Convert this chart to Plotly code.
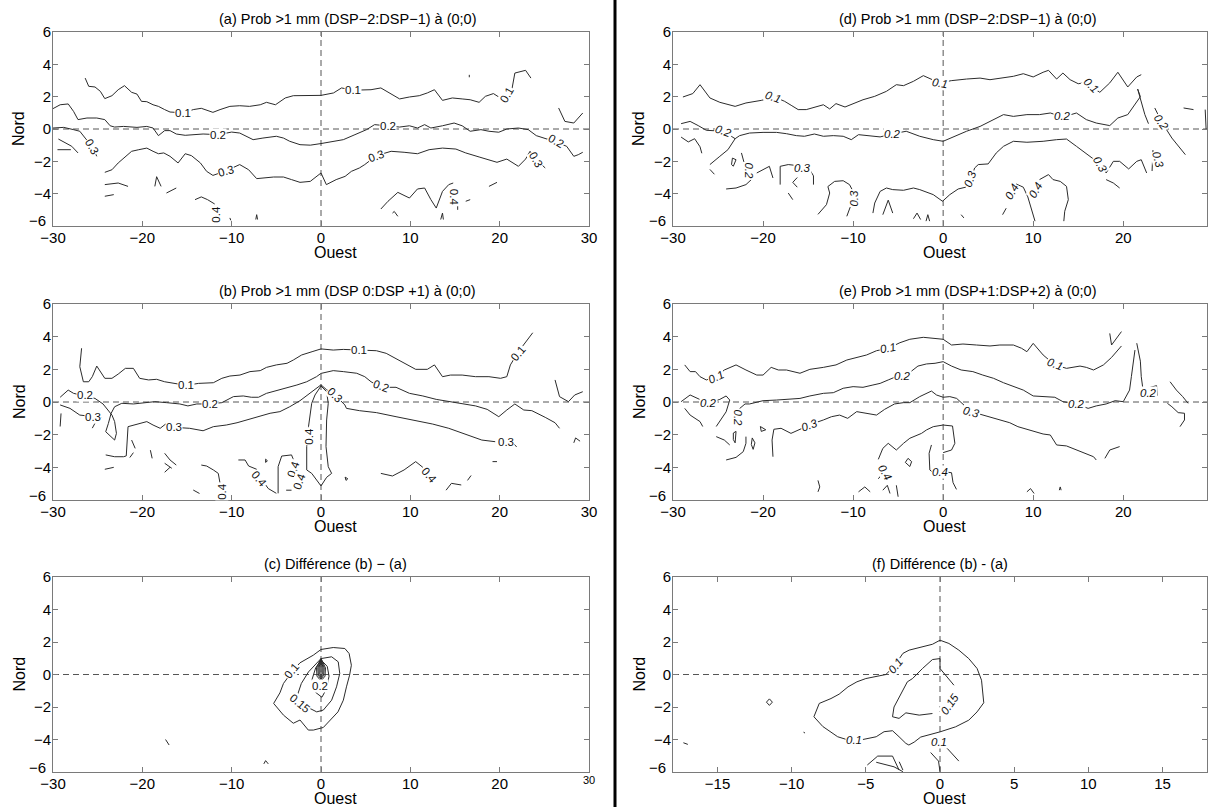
import plotly.graph_objects as go

# ---------------- DATA ----------------
# Each contour polyline is a list of (Ouest, Nord) points.

# Panel (a)
A_01 = [(-26.4,3.15),(-26.0,2.64),(-25.3,2.6),(-24.7,2.33),(-24.2,1.88),(-23.4,2.06),(-22.7,2.43),(-22.0,2.68),(-21.2,2.27),(-20.6,2.16),(-20.1,1.71),(-19.5,1.69),(-18.8,1.5),(-18.2,1.4),(-17.5,1.2),(-16.9,1.05),(-15.4,1.0),(-14.3,1.2),(-13.4,1.28),(-12.1,1.03),(-11.3,1.2),(-10.2,1.4),(-9.1,1.44),(-8.0,1.4),(-6.8,1.5),(-6.1,1.65),(-5.1,1.5),(-4.0,1.92),(-3.1,2.06),(-1.6,2.06),(0,2.08),(1.4,2.23),(2.3,2.54),(3.6,2.4),(5.6,2.43),(6.7,2.54),(7.6,2.23),(8.8,1.86),(9.9,1.98),(11.0,2.06),(11.9,2.23),(12.7,2.43),(13.6,1.77),(14.7,1.92),(15.8,1.86),(16.7,1.81),(17.7,1.65),(18.4,2.02),(19.3,2.19),(19.9,1.98),(20.8,2.0),(21.4,2.54),(21.7,3.46),(22.9,3.63),(23.5,3.15)]
A_02 = [(26.6,1.3),(27.3,0.47),(28.3,0.37),(28.8,0.68),(29.3,0.99)]
A_03 = [(-30,1.26),(-29.2,1.5),(-28.3,1.55),(-27.7,1.09),(-27.2,0.58),(-26.2,0.68),(-25.1,0.68),(-24.2,0.58),(-23.6,0.2),(-23.1,0.12),(-22.1,0.16),(-20.6,0.1),(-19.5,0.16),(-18.8,0.06),(-18.2,-0.41),(-17.5,-0.1),(-16.9,-0.1),(-16.2,-0.31),(-15.2,-0.39),(-14.3,-0.35),(-13.2,-0.31),(-11.5,-0.35),(-10.0,-0.19),(-9.1,-0.25),(-7.6,-0.66),(-6.5,-0.56),(-5.0,-0.45),(-4.2,-0.56),(-3.5,-0.76),(-2.35,-0.97),(-1.2,-1.0),(0,-0.9),(1.4,-0.76),(2.5,-0.66),(3.8,-0.35),(5.1,-0.04),(6.0,0.27),(7.5,0.2),(8.8,0.12),(9.9,0.2),(10.8,0.06),(11.6,0.27),(12.3,0.06),(13.6,0.2),(14.9,0.37),(15.8,0.2),(16.7,-0.14),(17.9,-0.04),(18.8,-0.14),(19.9,-0.2),(20.8,0),(22.1,0.06),(23.2,-0.04),(24.1,-0.41),(25.2,-0.6),(26.3,-0.8),(27.5,-1.07),(28.3,-1.69),(28.8,-1.59),(29.3,-1.44)]
A_04 = [(-30,0.06),(-28.8,0.1),(-27.7,-0.04),(-27.0,-0.14),(-26.4,-0.56),(-25.6,-1.1),(-25.1,-1.69)]
A_05 = [(-29.4,-0.62),(-27.9,-1.07),(-27.2,-1.48)]
A_06 = [(-29.5,-1.28),(-28.0,-1.28)]
A_07 = [(-24.2,-2.68),(-23.4,-2.52),(-22.7,-2.1),(-21.9,-1.69),(-21.2,-1.38),(-20.4,-1.28),(-19.5,-1.18),(-18.8,-1.38),(-18.2,-1.53),(-17.6,-1.48),(-16.9,-1.69),(-16.0,-2.1),(-15.2,-1.53),(-14.5,-1.65),(-13.5,-2.1),(-12.8,-2.62),(-12.1,-2.87),(-10.6,-2.58),(-9.1,-2.2),(-8.1,-2.52),(-7.2,-3.07),(-5.3,-2.97),(-4.2,-2.97),(-3.3,-3.13),(-2.35,-3.3),(-1.2,-3.24),(0,-2.72),(0.6,-3.44),(1.7,-3.13),(2.7,-2.93),(3.4,-2.62),(4.3,-2.41),(4.9,-2.2),(6.2,-1.65),(7.85,-1.38),(9.3,-1.44),(10.8,-1.53),(12.1,-1.28),(13.6,-1.18),(15.1,-1.24),(16.2,-1.48),(17.7,-1.73),(19.7,-2.06),(20.8,-1.86),(22.1,-2.31),(22.9,-1.86),(23.4,-1.38),(24.1,-1.9),(25.1,-2.41)]
A_08 = [(6.7,-4.95),(7.5,-4.47),(8.6,-3.92),(9.9,-4.27),(10.8,-3.71),(11.6,-3.65),(12.3,-4.37),(12.9,-4.89),(13.6,-3.86),(14.3,-3.44),(14.8,-3.34)]
A_09 = [(15.3,-4.6),(15.3,-5.0)]
A_10 = [(16.2,-4.47),(16.7,-4.37)]
A_11 = [(18.8,-3.55),(19.7,-3.3)]
A_12 = [(8.0,-5.2),(8.2,-5.1),(8.6,-5.4)]
A_13 = [(13.4,-5.6),(13.6,-5.2),(13.7,-5.6)]
A_14 = [(-14.1,-4.37),(-13.4,-4.2),(-12.7,-4.37),(-11.9,-4.64)]
A_15 = [(-10.2,-5.5),(-10.1,-5.65)]
A_16 = [(-7.3,-5.6),(-7.2,-5.3),(-7.1,-5.6)]
A_17 = [(-18.6,-3.55),(-18.4,-2.95),(-17.9,-3.55)]
A_18 = [(-17.3,-3.96),(-16.2,-3.65)]
A_19 = [(-24.2,-3.44),(-22.7,-3.34),(-21.6,-3.55)]
A_20 = [(-24.2,-4.16),(-23.2,-4.06)]
A_21 = [(16.6,3.2),(16.6,3.35)]
A_LINES = [A_01,A_02,A_03,A_04,A_05,A_06,A_07,A_08,A_09,A_10,A_11,A_12,A_13,A_14,A_15,A_16,A_17,A_18,A_19,A_20,A_21]
A_LABELS = [("0.1",-15.4,1.0,0),("0.1",3.6,2.4,0),("0.1",20.8,2.1,-60),
            ("0.2",-11.5,-0.35,0),("0.2",7.5,0.2,0),("0.2",26.3,-0.75,30),
            ("0.3",-25.6,-1.1,60),("0.3",-10.6,-2.6,-15),("0.3",6.2,-1.65,-20),("0.3",24.1,-1.9,60),
            ("0.4",-11.75,-5.3,-90),("0.4",14.9,-4.2,90)]

# Panel (b)
B_01 = [(-26.8,3.29),(-27.0,2.16),(-26.6,1.24),(-26.0,1.24),(-25.6,1.55),(-25.1,2.2),(-24.2,1.45),(-23.4,1.45),(-22.7,1.71),(-21.9,2.06),(-21.0,2.06),(-20.3,1.45),(-19.3,1.35),(-18.4,1.39),(-17.5,1.24),(-16.5,1.14),(-15.1,1.02),(-13.7,1.14),(-12.05,1.18),(-11.1,1.45),(-10.2,1.59),(-9.07,1.65),(-7.95,1.86),(-6.8,1.92),(-6.1,2.12),(-5.0,2.27),(-3.8,2.37),(-3.1,2.57),(-2.16,2.88),(-1.0,3.08),(0,3.25),(1.37,3.18),(2.5,3.22),(4.3,3.18),(6.2,3.14),(7.3,2.98),(8.4,2.67),(9.5,2.33),(10.6,2.0),(11.9,2.0),(12.7,2.27),(13.6,1.55),(14.5,1.65),(15.8,1.65),(17.3,1.55),(18.8,1.55),(20.1,1.45),(20.8,1.55),(21.2,2.27),(22.1,3.08),(23.2,3.9),(23.7,4.24)]
B_02 = [(-29.2,0.29),(-28.3,0.73),(-27.7,0.53),(-26.4,0.37),(-25.3,0.22),(-24.4,-0.12),(-23.4,-0.8),(-23.1,-1.2),(-22.9,-1.92),(-23.1,-2.33),(-24.1,-1.82),(-23.8,-1.31),(-23.5,-0.7),(-23.1,-0.29),(-22.3,-0.08),(-21.0,-0.12),(-19.9,-0.04),(-18.6,0.02),(-17.3,-0.04),(-15.8,-0.12),(-14.9,-0.24),(-13.9,-0.12),(-12.4,-0.12),(-11.1,-0.04),(-9.8,0.33),(-8.7,0.37),(-7.8,0.29),(-7.0,0.29),(-6.1,0.53),(-5.0,0.69),(-3.8,0.84),(-2.7,1.04),(-1.6,1.24),(-0.5,1.55),(0,1.75),(1.37,1.92),(2.5,1.86),(4.0,1.76),(4.9,1.55),(5.6,1.24),(6.7,0.9),(8.4,0.9),(9.9,0.53),(11.4,0.37),(12.9,0.16),(14.3,0.02),(15.8,-0.12),(17.3,-0.24),(18.6,-0.45),(19.9,-0.9),(20.8,-0.49),(21.7,-0.12),(22.7,-0.49),(23.6,-0.53),(25.1,-0.94),(26.2,-1.27),(26.7,-1.61)]
B_03 = [(26.2,1.35),(26.7,0.33),(27.7,0.02),(28.4,0.43),(29.3,0.63)]
B_04 = [(-29.2,-0.18),(-28.1,-0.39),(-27.0,-0.8),(-25.5,-0.9),(-24.6,-0.95)]
B_05 = [(-25.3,-1.3),(-25.6,-1.6)]
B_06 = [(-24.1,-3.24),(-23.1,-3.35),(-22.1,-3.35),(-21.8,-3.3),(-21.6,-1.51),(-20.6,-1.35),(-19.5,-1.2),(-18.8,-1.41),(-18.0,-1.61),(-17.3,-1.31),(-16.5,-1.55),(-14.7,-1.61),(-13.2,-1.76),(-12.05,-1.51),(-10.6,-1.41),(-9.4,-1.27),(-8.3,-1.1),(-6.8,-0.9),(-5.7,-0.69),(-4.6,-0.59),(-3.5,-0.29),(-2.35,0.08),(-1.23,0.53),(-0.3,0.94),(0,1.05),(0.63,0.75),(1.56,0.43),(2.67,-0.18),(2.85,-0.39),(4.3,-0.53),(6.2,-0.65),(8.4,-0.9),(10.3,-1.1),(12.5,-1.35),(14.3,-1.61),(16.2,-1.96),(18.0,-2.33),(19.5,-2.43)]
B_07 = [(21.4,-2.45),(21.9,-2.75)]
B_08 = [(0,0.98),(0.63,0.63),(0.81,-0.08),(0.63,-1.1),(0.56,-2.73),(0.81,-3.96),(1.19,-4.37),(0.63,-4.61),(0,-5.14),(-0.48,-4.78),(-1.04,-4.37),(-1.6,-4.16),(-1.6,-2.73),(-1.4,-1.51),(-1.04,-0.08),(-0.67,0.43),(0,0.98)]
B_09 = [(-13.4,-3.86),(-12.8,-3.92),(-12.05,-4.16),(-11.5,-4.37),(-11.3,-4.98)]
B_10 = [(-14.3,-5.39),(-13.6,-5.6)]
B_11 = [(-9.25,-3.55),(-8.5,-3.55),(-8.1,-3.92),(-7.2,-4.12),(-6.9,-4.4)]
B_12 = [(-6.3,-5.0),(-5.9,-5.3),(-5.0,-5.59)]
B_13 = [(-6.2,-3.5),(-6.0,-3.6),(-6.2,-3.7),(-6.2,-3.5)]
B_14 = [(-4.8,-5.59),(-4.8,-3.96),(-4.4,-3.31),(-3.3,-3.24),(-3.0,-3.65)]
B_15 = [(-3.9,-5.4),(-3.3,-5.4)]
B_16 = [(-29.1,-0.7),(-29.2,-1.5)]
B_17 = [(-24.2,-4.12),(-23.2,-4.0)]
B_18 = [(-21.2,-2.33),(-20.8,-2.84)]
B_19 = [(-21.4,-3.4),(-21.0,-3.1)]
B_20 = [(-19.1,-2.95),(-18.9,-3.45)]
B_21 = [(-17.5,-3.14),(-16.9,-3.55),(-16.2,-3.86)]
B_22 = [(-17.5,-3.75),(-16.7,-4.06)]
B_23 = [(-17.5,-4.3),(-16.9,-4.0)]
B_24 = [(6.7,-4.37),(8.0,-4.53),(9.3,-4.16),(10.6,-3.65),(11.4,-4.0)]
B_25 = [(14.0,-5.4),(14.6,-4.98),(15.7,-5.08)]
B_26 = [(16.4,-4.8),(16.8,-4.5)]
B_27 = [(19.2,-3.65),(19.7,-3.65)]
B_28 = [(28.3,-2.5),(28.5,-2.2),(29.0,-2.4)]
B_29 = [(2.7,-4.6),(3.0,-4.7),(2.8,-4.8),(2.7,-4.6)]
B_LINES = [B_01,B_02,B_03,B_04,B_05,B_06,B_07,B_08,B_09,B_10,B_11,B_12,B_13,B_14,B_15,B_16,B_17,B_18,B_19,B_20,B_21,B_22,B_23,B_24,B_25,B_26,B_27,B_28,B_29]
B_LABELS = [("0.1",-15.1,1.02,0),("0.1",4.3,3.18,0),("0.1",22.1,3.0,-50),
            ("0.2",-26.4,0.45,0),("0.2",-12.4,-0.12,0),("0.2",6.7,0.95,20),
            ("0.3",-25.5,-0.9,0),("0.3",-16.5,-1.55,0),("0.3",1.56,0.43,45),("0.3",20.7,-2.43,0),
            ("0.4",-1.3,-2.1,-90),("0.4",-11.1,-5.45,-90),("0.4",-6.9,-4.7,50),
            ("0.4",-3.1,-4.1,-70),("0.4",-2.4,-4.85,-70),("0.4",12.2,-4.5,50)]

# Panel (c)
C_01 = [(0,1.54),(1.37,1.66),(2.67,1.6),(3.15,1.29),(3.4,0.57),(3.2,-0.04),(2.85,-0.76),(2.5,-1.58),(1.9,-2.3),(1.37,-2.6),(0.26,-3.26),(-0.85,-3.42),(-1.42,-3.42),(-2.35,-2.8),(-3.1,-3.0),(-4.2,-2.5),(-5.3,-1.78),(-4.6,-1.13),(-4.2,-0.55),(-3.1,0.27),(-2.35,0.72),(-0.86,1.19),(0,1.54)]
C_02 = [(0,0.98),(1.19,1.09),(1.93,0.78),(2.1,0.06),(1.74,-0.76),(1.19,-1.58),(0.26,-2.19),(-0.48,-2.3),(-1.23,-2.09),(-2.16,-1.78),(-2.7,-1.37),(-2.2,-0.55),(-1.4,0.16),(-0.5,0.68),(0,0.98)]
C_03 = [(0,0.9),(0.7,0.5),(0.9,-0.1),(0.6,-0.9),(0.1,-1.4),(-0.6,-1.1),(-1.0,-0.3),(-0.6,0.4),(0,0.9)]
C_04 = [(0,1.0),(0.5,0.4),(0.45,-0.1),(0,-0.4),(-0.45,-0.1),(-0.5,0.4),(0,1.0)]
C_05 = [(0,0.95),(0.36,0.4),(0.3,-0.05),(0,-0.3),(-0.3,-0.05),(-0.36,0.4),(0,0.95)]
C_06 = [(0,0.9),(0.24,0.4),(0.2,0.0),(0,-0.2),(-0.2,0.0),(-0.24,0.4),(0,0.9)]
C_07 = [(0,0.85),(0.12,0.4),(0.1,0.05),(0,-0.1),(-0.1,0.05),(-0.12,0.4),(0,0.85)]
C_08 = [(-17.4,-4.0),(-17.0,-4.34)]
C_09 = [(-6.4,-5.5),(-6.2,-5.3),(-5.9,-5.5)]
C_LINES = [C_01,C_02,C_03,C_04,C_05,C_06,C_07,C_08,C_09]
C_LABELS = [("0.1",-3.3,0.2,-50),("0.15",-2.4,-1.75,40),("0.2",-0.1,-0.7,0)]

# Panel (d)
D_01 = [(-28.9,1.98),(-27.8,2.19),(-27.0,2.74),(-25.9,1.92),(-24.8,1.65),(-23.1,1.4),(-21.9,1.61),(-20.2,1.77),(-18.7,1.98),(-17.6,1.71),(-16.8,1.44),(-16.1,1.2),(-15.2,1.2),(-14.1,1.4),(-13.3,1.5),(-12.6,1.24),(-11.9,1.57),(-10.9,1.36),(-10.0,1.57),(-8.9,1.81),(-7.6,2.02),(-6.3,2.33),(-5.2,2.74),(-4.4,2.68),(-3.3,2.95),(-2.2,3.3),(-0.4,2.85),(0.9,2.99),(2.6,3.09),(4.1,3.15),(5.2,3.05),(6.3,3.15),(7.8,3.26),(8.9,3.42),(10.0,3.22),(11.1,3.51),(11.7,3.63),(12.6,3.09),(13.3,3.46),(14.1,3.05),(15.0,2.8),(15.6,2.85),(16.5,2.6),(17.4,2.27),(18.5,2.85),(19.4,3.51),(20.5,2.6),(21.5,3.22),(22.0,3.36)]
D_02 = [(-29.1,0.33),(-28.1,0.47),(-27.2,0.21),(-26.3,-0.08),(-24.4,-0.14),(-23.1,-0.6),(-22.6,-0.41),(-21.5,-0.25),(-20.0,-0.21),(-18.5,-0.21),(-17.4,-0.29),(-16.3,-0.41),(-15.4,-0.45),(-14.3,-0.31),(-13.3,-0.45),(-12.2,-0.41),(-11.1,-0.45),(-10.2,-0.66),(-9.4,-0.35),(-8.1,-0.41),(-7.0,-0.49),(-5.6,-0.3),(-4.1,-0.14),(-2.6,-0.45),(-1.1,-0.66),(0,-0.76),(1.1,-0.49),(2.6,-0.14),(4.1,0.16),(5.6,0.58),(6.7,0.89),(7.8,0.78),(9.3,0.89),(10.7,0.89),(11.9,0.99),(13.3,0.74),(14.8,0.99),(15.9,0.58),(17.0,0.37),(18.5,0.21),(19.4,0.68),(20.5,0.89),(21.3,1.5),(21.9,2.0),(21.6,2.47),(21.9,1.81),(22.4,0.89),(22.8,0.33)]
D_03 = [(23.5,1.3),(24.3,0.4),(25.4,-0.56),(26.9,-1.59)]
D_04 = [(-23.1,-0.6),(-23.9,-1.28),(-24.8,-1.69),(-25.9,-2.2)]
D_05 = [(-7.8,-5.2),(-7.6,-4.58),(-7.0,-3.86),(-6.3,-3.65),(-5.6,-3.75),(-4.4,-3.79),(-3.3,-3.65),(-2.6,-3.75),(-1.1,-4.06),(-0.07,-4.47),(0.74,-4.06),(1.67,-3.71),(2.5,-3.6),(3.0,-3.2),(3.5,-2.41),(3.9,-2.2),(5.0,-2.16),(5.9,-1.48),(6.7,-1.07),(7.8,-0.76),(9.3,-0.82),(11.1,-0.76),(12.6,-0.66),(13.7,-0.62),(14.8,-1.07),(15.9,-1.53),(16.7,-1.86),(17.6,-2.1),(18.1,-2.72),(18.9,-2.0),(19.6,-2.0),(20.6,-2.47),(21.5,-2.0),(22.0,-1.9),(22.6,-2.72)]
D_06 = [(23.3,-1.3),(23.2,-2.6)]
D_07 = [(18.1,-3.13),(18.9,-3.34),(19.6,-3.65)]
D_08 = [(-29.1,-0.5),(-28.3,-0.8),(-27.6,-0.6),(-27.0,-1.1),(-26.8,-1.5)]
D_09 = [(-25.9,-2.5),(-25.4,-2.8)]
D_10 = [(-23.4,-1.8),(-23.0,-1.9),(-23.3,-2.3),(-23.5,-2.2),(-23.4,-1.8)]
D_11 = [(-22.4,-1.48),(-22.2,-2.0),(-22.0,-2.3)]
D_12 = [(-24.1,-3.71),(-23.0,-3.65),(-21.9,-3.44),(-21.3,-3.13)]
D_13 = [(-20.7,-2.72),(-19.8,-2.47),(-19.3,-2.31),(-18.9,-3.03)]
D_14 = [(-18.1,-3.44),(-18.1,-2.31),(-17.2,-2.2),(-16.4,-2.25)]
D_15 = [(-14.8,-2.52),(-14.4,-2.9),(-14.4,-3.44)]
D_16 = [(-16.2,-3.0),(-16.7,-3.3),(-16.2,-3.6)]
D_17 = [(-17.2,-3.96),(-16.7,-4.37)]
D_18 = [(-13.9,-5.28),(-12.96,-4.68),(-12.6,-3.96),(-12.8,-3.56),(-12.05,-3.24),(-11.1,-3.2),(-10.4,-3.44),(-10.0,-3.86)]
D_19 = [(-10.3,-4.8),(-10.7,-5.4)]
D_20 = [(-6.7,-5.3),(-6.1,-4.4),(-5.6,-5.2)]
D_21 = [(-3.3,-5.55),(-2.9,-5.2),(-2.5,-5.6)]
D_22 = [(-1.9,-5.7),(-1.7,-5.3),(-1.5,-5.7)]
D_23 = [(2.0,-5.3),(2.3,-5.5)]
D_24 = [(6.6,-5.3),(7.0,-4.9)]
D_25 = [(8.1,-3.4),(8.9,-3.6),(9.4,-4.2),(9.8,-4.9),(10.2,-5.7)]
D_26 = [(10.7,-3.13),(11.7,-2.82),(12.2,-3.13),(13.0,-3.24),(13.7,-3.55),(13.9,-4.37),(13.5,-5.09),(13.4,-5.7)]
D_27 = [(26.7,1.3),(27.8,1.2)]
D_28 = [(29.1,1.2),(29.2,0.0)]
D_LINES = [D_01,D_02,D_03,D_04,D_05,D_06,D_07,D_08,D_09,D_10,D_11,D_12,D_13,D_14,D_15,D_16,D_17,D_18,D_19,D_20,D_21,D_22,D_23,D_24,D_25,D_26,D_27,D_28]
D_LABELS = [("0.1",-18.9,1.95,20),("0.1",-0.4,2.85,10),("0.1",16.4,2.7,45),
            ("0.2",-24.4,-0.14,20),("0.2",-5.6,-0.3,0),("0.2",13.3,0.8,0),("0.2",24.3,0.4,55),("0.2",-21.6,-2.6,90),
            ("0.3",3.0,-3.1,-70),("0.3",17.5,-2.2,60),("0.3",23.9,-1.9,75),("0.3",-15.6,-2.4,0),("0.3",-10.0,-4.3,-90),
            ("0.4",7.6,-3.9,-60),("0.4",10.3,-3.8,-60)]

# Panel (e)
E_01 = [(-28.7,2.27),(-28.1,1.86),(-27.5,1.86),(-27.0,1.55),(-26.3,1.35),(-25.2,1.55),(-24.3,1.96),(-23.0,2.27),(-21.9,1.96),(-20.7,1.65),(-20.0,1.65),(-19.1,2.12),(-18.3,1.96),(-17.4,1.96),(-15.9,1.76),(-14.8,2.0),(-13.3,2.12),(-11.9,2.27),(-10.7,2.57),(-9.6,2.73),(-8.5,2.88),(-7.4,3.14),(-6.1,3.29),(-4.8,3.63),(-3.7,3.84),(-2.2,3.96),(-1.1,3.9),(0,3.84),(0.93,3.49),(2.2,3.55),(3.7,3.49),(5.2,3.43),(6.3,3.49),(7.8,3.49),(8.7,3.29),(9.3,3.08),(10.0,3.59),(11.1,2.88),(12.4,2.27),(13.7,2.06),(15.2,2.2),(15.9,2.12),(16.7,1.96),(17.8,2.27),(18.7,2.73),(19.4,3.14),(19.8,3.43)]
E_02 = [(18.5,4.2),(18.7,3.49),(19.8,4.31)]
E_03 = [(-29.1,0.02),(-28.1,0.43),(-26.1,-0.08),(-24.8,0.16),(-24.1,0.37),(-23.7,0.12)]
E_04 = [(-23.7,0.12),(-24.1,-0.6),(-25.2,-1.5)]
E_05 = [(-22.6,-0.4),(-22.0,-0.12),(-21.5,-0.12),(-20.0,0.08),(-18.5,0.12),(-17.0,0.16),(-15.9,0.22),(-14.8,0.37),(-13.3,0.53),(-12.2,0.57),(-11.1,0.84),(-10.0,0.94),(-8.9,0.9),(-7.8,1.04),(-7.0,1.14),(-6.1,1.35),(-5.4,1.51),(-4.3,1.55),(-2.8,2.2),(-1.85,2.33),(-0.9,2.37),(0,2.47),(0.93,2.2),(2.0,1.96),(3.3,1.86),(4.4,1.65),(5.6,1.45),(6.7,1.18),(7.8,0.94),(8.9,0.73),(10.0,0.37),(11.1,0.33),(12.4,0.29),(13.3,0.02),(14.8,-0.12),(16.1,-0.39),(17.0,-0.24),(18.1,-0.12),(19.1,0.08),(20.0,0.02),(20.7,0.73),(20.9,1.55),(21.1,2.47),(21.3,3.18)]
E_06 = [(21.5,3.6),(21.9,2.5),(22.0,1.55),(22.2,0.73)]
E_07 = [(23.0,0.9),(23.7,1.0),(23.8,0.4),(23.5,0.3)]
E_08 = [(25.2,1.24),(25.9,0.73),(26.6,0.33),(27.2,-0.08)]
E_09 = [(24.9,-0.08),(25.4,-0.29),(26.1,-0.65),(26.8,-0.69),(26.8,-1.1),(26.3,-1.51)]
E_10 = [(-18.9,-3.35),(-19.0,-2.33),(-18.8,-1.67),(-18.0,-1.61),(-16.9,-1.92),(-14.6,-1.35),(-13.3,-1.1),(-12.4,-0.9),(-11.5,-0.8),(-10.6,-1.0),(-9.6,-0.59),(-8.3,-0.69),(-7.4,-0.8),(-6.5,-0.45),(-5.4,-0.12),(-4.4,-0.04),(-3.7,-0.04),(-2.6,0.33),(-1.3,0.67),(-0.74,0.43),(0,0.29),(0.74,0.33),(1.5,0.22),(3.1,-0.59),(4.4,-0.8),(5.9,-1.0),(7.4,-1.27),(8.3,-1.51),(10.0,-1.76),(11.1,-1.96),(11.9,-2.02),(12.6,-2.63),(13.7,-2.69),(14.8,-2.94),(15.7,-3.1),(16.7,-3.35),(17.0,-3.55)]
E_11 = [(17.96,-3.45),(18.5,-2.94),(19.6,-2.73)]
E_12 = [(-7.2,-3.51),(-6.7,-2.84),(-6.1,-2.53),(-5.7,-2.73),(-5.2,-2.94),(-4.4,-2.53),(-3.7,-2.22),(-2.4,-1.92),(-1.85,-1.71),(-1.1,-1.51),(0,-1.41),(1.04,-1.47),(1.3,-2.53),(0.93,-2.94),(0,-3.1)]
E_13 = [(-1.3,-2.63),(-1.56,-3.14),(-1.48,-4.16),(-1.1,-4.33)]
E_14 = [(0.5,-4.3),(0.93,-4.33),(1.1,-4.94),(1.48,-5.35)]
E_15 = [(-3.9,-3.45),(-3.5,-3.65),(-3.7,-3.95),(-4.2,-3.7),(-3.9,-3.45)]
E_16 = [(-7.2,-4.7),(-6.9,-4.5)]
E_17 = [(-25.2,-2.12),(-24.3,-2.33),(-23.7,-2.63)]
E_18 = [(-24.1,-3.55),(-23.0,-3.39),(-22.2,-3.04),(-21.9,-2.53),(-21.9,-2.12)]
E_19 = [(-28.7,-0.39),(-28.1,-0.8),(-27.0,-1.2),(-26.7,-1.5)]
E_20 = [(-23.3,-1.9),(-23.0,-1.8),(-23.1,-2.5),(-23.3,-2.3),(-23.3,-1.9)]
E_21 = [(-21.2,-2.2),(-20.9,-2.5),(-21.1,-2.9),(-21.3,-2.6),(-21.2,-2.2)]
E_22 = [(-20.3,-1.5),(-19.7,-1.7),(-20.2,-1.8),(-20.3,-1.5)]
E_23 = [(-13.9,-4.8),(-13.7,-5.2),(-13.9,-5.5)]
E_24 = [(-9.4,-5.5),(-8.7,-5.2),(-8.1,-5.5)]
E_25 = [(-6.7,-5.4),(-6.2,-5.1),(-5.9,-5.6)]
E_26 = [(-5.2,-5.1),(-5.0,-5.8)]
E_27 = [(9.3,-5.5),(9.7,-5.3),(10.1,-5.6)]
E_28 = [(12.9,-5.4),(13.0,-5.2),(13.1,-5.4)]
E_LINES = [E_01,E_02,E_03,E_04,E_05,E_06,E_07,E_08,E_09,E_10,E_11,E_12,E_13,E_14,E_15,E_16,E_17,E_18,E_19,E_20,E_21,E_22,E_23,E_24,E_25,E_26,E_27,E_28]
E_LABELS = [("0.1",-25.2,1.55,-25),("0.1",-6.1,3.29,-10),("0.1",12.4,2.3,20),
            ("0.2",-26.1,-0.05,0),("0.2",-4.5,1.6,0),("0.2",14.8,-0.12,0),("0.2",-22.8,-1.0,90),("0.2",22.8,0.55,0),
            ("0.3",-14.8,-1.4,-20),("0.3",3.1,-0.6,15),
            ("0.4",-0.37,-4.3,0),("0.4",-6.5,-4.3,60)]

# Panel (f)
F_01 = [(-5.2,-4.0),(-4.3,-3.83),(-3.77,-3.52),(-3.2,-3.46),(-2.76,-3.83),(-2.3,-4.24),(-2.1,-4.34),(-1.74,-4.16),(-1.3,-3.85),(0,-3.53),(1.05,-3.22),(1.94,-2.81),(2.5,-2.3),(2.95,-1.74),(2.8,-0.35),(2.5,0.37),(1.94,0.98),(1.27,1.5),(0.6,1.91),(0,2.11),(-0.51,1.86),(-1.18,1.7),(-2.08,1.5),(-2.5,1.3),(-3.1,0.5),(-3.65,0.0),(-4.3,-0.14),(-5.0,-0.25),(-5.6,-0.45),(-6.2,-0.76),(-6.8,-1.21),(-7.35,-1.48),(-8.14,-1.78),(-8.5,-2.6),(-7.9,-3.2),(-6.9,-3.83),(-6.3,-4.0)]
F_02 = [(0,0.98),(-0.51,0.92),(-1.18,0.37),(-1.85,-0.25),(-2.2,-0.45),(-2.76,-1.38),(-3.1,-2.0),(-3.2,-2.6),(-2.76,-2.7),(-2.3,-2.36),(-1.4,-2.5),(-0.51,-2.4)]
F_03 = [(0.3,-4.4),(0.49,-4.55),(1.27,-5.33)]
F_04 = [(-0.63,-4.8),(-0.1,-5.33),(0,-5.98)]
F_05 = [(0.94,-0.66),(0.49,-0.14),(0,0.37),(0,0.98)]
F_06 = [(-4.9,-5.57),(-4.2,-5.02),(-3.2,-5.02),(-2.76,-5.88)]
F_07 = [(-4.3,-5.4),(-3.1,-5.68),(-2.5,-5.98)]
F_08 = [(-2.75,-5.37),(-2.5,-5.88)]
F_09 = [(-11.5,-1.5),(-11.3,-1.7),(-11.5,-1.9),(-11.7,-1.7),(-11.5,-1.5)]
F_10 = [(-17.3,-4.2),(-17.0,-4.3)]
F_11 = [(-9.2,-3.55),(-9.1,-3.6)]
F_LINES = [F_01,F_02,F_03,F_04,F_05,F_06,F_07,F_08,F_09,F_10,F_11]
F_LABELS = [("0.1",-3.0,0.5,-50),("0.1",-5.8,-4.05,0),("0.1",-0.05,-4.15,0),("0.15",0.65,-1.8,-55)]

TITLES = ["(a) Prob >1 mm (DSP−2:DSP−1) à (0;0)",
          "(b) Prob >1 mm (DSP 0:DSP +1) à (0;0)",
          "(c) Différence (b) − (a)",
          "(d) Prob >1 mm (DSP−2:DSP−1) à (0;0)",
          "(e) Prob >1 mm (DSP+1:DSP+2) à (0;0)",
          "(f) Différence (b) - (a)"]
X_TICKS_WIDE = [-30, -20, -10, 0, 10, 20, 30]
X_TICKS_C = [-30, -20, -10, 0, 10, 20]
X_TICKS_DE = [-30, -20, -10, 0, 10, 20]
X_TICKS_F = [-15, -10, -5, 0, 5, 10, 15]
Y_TICKS = [-6, -4, -2, 0, 2, 4, 6]

# ---------------- LAYOUT / STYLE ----------------
W, H = 1208, 807
FONT = "Liberation Sans, Arial, Helvetica, sans-serif"
FRAME = "#7a7a7a"
LINE = "#2b2b2b"

def lab(v):
    return str(v).replace("-", "−")

panels = [
    dict(lines=A_LINES, labels=A_LABELS, xpx=(53, 589), ypx=(32, 226), xr=(-30, 30), xt=X_TICKS_WIDE, tcx=348, italic=False),
    dict(lines=B_LINES, labels=B_LABELS, xpx=(53, 589), ypx=(304, 500), xr=(-30, 30), xt=X_TICKS_WIDE, tcx=348, italic=False),
    dict(lines=C_LINES, labels=C_LABELS, xpx=(53, 589), ypx=(577, 772), xr=(-30, 30), xt=X_TICKS_C, tcx=335, italic=False),
    dict(lines=D_LINES, labels=D_LABELS, xpx=(673, 1207), ypx=(32, 226), xr=(-30, 29.3), xt=X_TICKS_DE, tcx=967, italic=True),
    dict(lines=E_LINES, labels=E_LABELS, xpx=(673, 1207), ypx=(304, 500), xr=(-30, 29.3), xt=X_TICKS_DE, tcx=967, italic=True),
    dict(lines=F_LINES, labels=F_LABELS, xpx=(673, 1207), ypx=(577, 772), xr=(-18, 18), xt=X_TICKS_F, tcx=940, italic=True),
]

fig = go.Figure()
layout = dict(template="none", width=W, height=H, margin=dict(l=0, r=0, t=0, b=0, pad=0, autoexpand=False),
              autosize=False, paper_bgcolor="white", plot_bgcolor="white", showlegend=False,
              font=dict(family=FONT, color="black"))
annotations = []
shapes = []

for i, p in enumerate(panels, start=1):
    sfx = "" if i == 1 else str(i)
    xref, yref = "x" + sfx, "y" + sfx
    for line in p["lines"]:
        fig.add_trace(go.Scatter(x=[q[0] for q in line], y=[q[1] for q in line], mode="lines",
                                 line=dict(color=LINE, width=1), xaxis=xref, yaxis=yref,
                                 hoverinfo="skip", showlegend=False))
    x0, x1 = p["xpx"]
    y0, y1 = p["ypx"]
    common = dict(ticks="inside", ticklen=5, tickcolor=FRAME, tickwidth=1, showline=True,
                  linecolor=FRAME, linewidth=1, mirror="allticks", showgrid=False, zeroline=False,
                  automargin=False, tickfont=dict(size=15, color="black", family=FONT), fixedrange=True,
                  ticklabelstandoff=-2)
    layout["xaxis" + sfx] = dict(domain=[x0 / W, x1 / W], range=list(p["xr"]), anchor=yref,
                                 tickmode="array", tickvals=p["xt"], ticktext=[lab(v) for v in p["xt"]], **common)
    # the lowest y label (−6) is drawn separately, raised a little as in the reference
    layout["yaxis" + sfx] = dict(domain=[1 - y1 / H, 1 - y0 / H], range=[-6, 6], anchor=xref,
                                 tickmode="array", tickvals=Y_TICKS,
                                 ticktext=["" if v == Y_TICKS[0] else lab(v) for v in Y_TICKS], **common)
    annotations.append(dict(xref="paper", yref="paper", x=(x0 - 5) / W, y=1 - (y1 - 5) / H,
                            text=lab(Y_TICKS[0]), showarrow=False, xanchor="right", yanchor="middle",
                            font=dict(size=15, family=FONT, color="black")))
    dash = dict(color="#555555", width=1, dash="6px,4px")
    shapes.append(dict(type="line", xref=xref, yref=yref, x0=0, x1=0, y0=-6, y1=6, line=dash, layer="below"))
    shapes.append(dict(type="line", xref=xref, yref=yref, x0=p["xr"][0], x1=p["xr"][1], y0=0, y1=0, line=dash, layer="below"))
    for (t, lx, ly, ang) in p["labels"]:
        txt = "<i>%s</i>" % t if p["italic"] else t
        annotations.append(dict(xref=xref, yref=yref, x=lx, y=ly, text=txt, showarrow=False, textangle=ang,
                                font=dict(size=11.5, color="#111", family=FONT), bgcolor="white", borderpad=0))
    annotations.append(dict(xref="paper", yref="paper", x=p["tcx"] / W, y=1 - (y0 - 13) / H, text=TITLES[i - 1],
                            showarrow=False, xanchor="center", yanchor="middle", font=dict(size=14.5, family=FONT, color="black")))
    annotations.append(dict(xref="paper", yref="paper", x=(x0 - 34) / W, y=1 - ((y0 + y1) / 2) / H, text="Nord",
                            showarrow=False, textangle=-90, xanchor="center", yanchor="middle",
                            font=dict(size=16, family=FONT, color="black")))
    annotations.append(dict(xref="paper", yref="paper", x=((x0 + x1) / 2 + (14 if x0 < 600 else 4)) / W,
                            y=1 - (y1 + 26) / H, text="Ouest", showarrow=False, xanchor="center", yanchor="middle",
                            font=dict(size=16, family=FONT, color="black")))

annotations.append(dict(xref="x3", yref="paper", x=30, y=1 - 780 / H, text="30", showarrow=False,
                        xanchor="center", yanchor="middle", font=dict(size=11, family=FONT, color="black")))
shapes.append(dict(type="line", xref="paper", yref="paper", x0=615 / W, x1=615 / W, y0=0, y1=1,
                   line=dict(color="black", width=3)))

layout["annotations"] = annotations
layout["shapes"] = shapes
fig.update_layout(**layout)
fig.write_html("out.html", config={"displayModeBar": False},
               post_script="document.body.style.margin='0';document.body.style.overflow='hidden';")
